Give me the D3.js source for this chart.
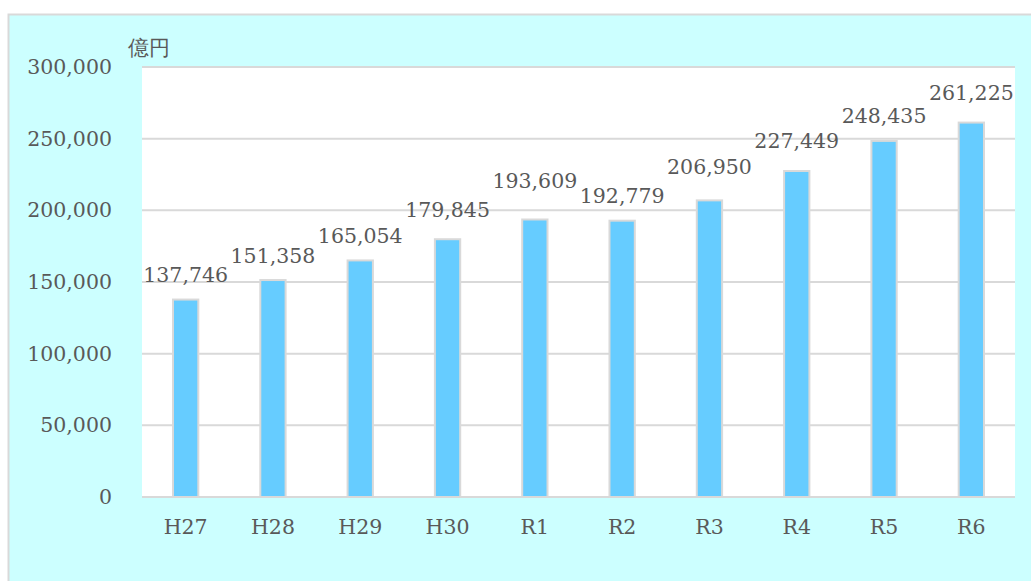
<!DOCTYPE html>
<html lang="ja">
<head>
<meta charset="utf-8">
<title>億円 bar chart</title>
<script src="https://d3js.org/d3.v7.min.js"></script>
<style>
  html, body { margin: 0; padding: 0; background: #fff; }
  svg { display: block; }
  text { font-family: 'DejaVu Serif', serif; fill: #595959; }
</style>
</head>
<body>
<div id="chart"></div>
<script>

/* Data */
var categories = ['H27', 'H28', 'H29', 'H30', 'R1', 'R2', 'R3', 'R4', 'R5', 'R6'];
var values = [137746, 151358, 165054, 179845, 193609, 192779, 206950, 227449, 248435, 261225];
var yTicks = [0, 50000, 100000, 150000, 200000, 250000, 300000];
var unitLabel = '億円';

/* Layout */
var width = 1031, height = 581;
var plot = { left: 142, right: 1015, top: 67, bottom: 497 };

// labels in the original were nudged by hand; gap above bar top in px
var labelGap = [18, 17, 17, 22, 31, 18, 26, 23, 18, 23];

var svg = d3.select('#chart').append('svg')
    .attr('width', width)
    .attr('height', height);

// Chart area background + border
svg.append('rect')
    .attr('x', 8.5).attr('y', 14.5)
    .attr('width', 1100).attr('height', 700)
    .attr('fill', '#CCFFFF')
    .attr('stroke', '#D9D9D9')
    .attr('stroke-width', 2);

// Plot area
svg.append('rect')
    .attr('x', plot.left).attr('y', plot.top)
    .attr('width', plot.right - plot.left)
    .attr('height', plot.bottom - plot.top)
    .attr('fill', '#FFFFFF');

var x = d3.scaleBand()
    .domain(categories)
    .range([plot.left, plot.right])
    .padding(0);

var y = d3.scaleLinear()
    .domain([0, 300000])
    .range([plot.bottom, plot.top]);

var fmt = d3.format(',');

// Gridlines
svg.append('g').selectAll('line')
    .data(yTicks)
    .join('line')
    .attr('x1', plot.left).attr('x2', plot.right)
    .attr('y1', function(d) { return y(d); })
    .attr('y2', function(d) { return y(d); })
    .attr('stroke', '#D9D9D9')
    .attr('stroke-width', 2);

// Y axis labels
var yAxis = d3.axisLeft(y).tickValues(yTicks).tickFormat(fmt).tickSize(0).tickPadding(30);
var yg = svg.append('g')
    .attr('transform', 'translate(' + plot.left + ',0)')
    .call(yAxis);
yg.select('.domain').remove();
yg.selectAll('text')
    .attr('font-size', 20.5)
    .attr('font-family', "'DejaVu Serif', serif")
    .attr('fill', '#595959')
    .attr('dy', '0.32em');

// X axis labels
var xAxis = d3.axisBottom(x).tickSize(0).tickPadding(22);
var xg = svg.append('g')
    .attr('transform', 'translate(0,' + plot.bottom + ')')
    .call(xAxis);
xg.select('.domain').remove();
xg.selectAll('text')
    .attr('font-size', 20.5)
    .attr('font-family', "'DejaVu Serif', serif")
    .attr('fill', '#595959');

// Bars
var barW = x.bandwidth() * 0.29;
svg.append('g').selectAll('rect')
    .data(values)
    .join('rect')
    .attr('x', function(d, i) { return x(categories[i]) + x.bandwidth() / 2 - barW / 2; })
    .attr('y', function(d) { return y(d); })
    .attr('width', barW)
    .attr('height', function(d) { return y(0) - y(d); })
    .attr('fill', '#66CCFF')
    .attr('stroke', '#D9D9D9')
    .attr('stroke-width', 2);

// Value labels
svg.append('g').selectAll('text')
    .data(values)
    .join('text')
    .attr('x', function(d, i) { return x(categories[i]) + x.bandwidth() / 2; })
    .attr('y', function(d, i) { return y(d) - labelGap[i]; })
    .attr('text-anchor', 'middle')
    .attr('font-size', 20.5)
    .text(function(d) { return fmt(d); });

// Unit label
svg.append('text')
    .attr('x', 128).attr('y', 55)
    .attr('font-family', "'Noto Sans CJK JP', sans-serif")
    .attr('font-size', 21)
    .text(unitLabel);

</script>
</body>
</html>
